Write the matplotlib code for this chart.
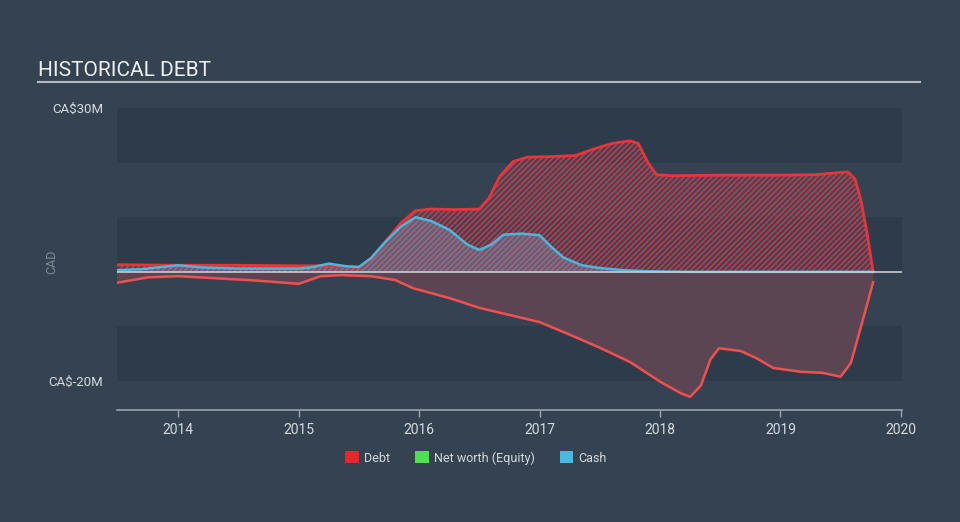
import matplotlib.pyplot as plt
import numpy as np
from matplotlib.patches import Patch

plt.rcParams['font.family'] = ['Roboto', 'DejaVu Sans']
plt.rcParams['hatch.linewidth'] = 1.0

# values in CA$ millions, x in decimal years
debt_t = [2013.49, 2014.0, 2014.5, 2015.0, 2015.3, 2015.5, 2015.6, 2015.72, 2015.85,
          2015.97, 2016.1, 2016.3, 2016.5, 2016.58, 2016.67, 2016.78, 2016.9, 2017.1,
          2017.3, 2017.45, 2017.6, 2017.75, 2017.82, 2017.9, 2017.97, 2018.1, 2018.5,
          2019.0, 2019.3, 2019.5, 2019.56, 2019.62, 2019.67, 2019.72, 2019.77]
debt_v = [1.3, 1.2, 1.2, 1.1, 1.1, 0.8, 2.5, 5.5, 9.0,
          11.2, 11.5, 11.4, 11.5, 13.5, 17.5, 20.2, 21.0, 21.1,
          21.3, 22.5, 23.5, 24.0, 23.5, 20.0, 17.8, 17.6, 17.7,
          17.7, 17.8, 18.2, 18.3, 17.0, 13.0, 7.0, 0.0]

cash_t = [2013.49, 2013.7, 2014.0, 2014.2, 2014.5, 2015.0, 2015.1, 2015.25, 2015.4,
          2015.5, 2015.6, 2015.72, 2015.85, 2015.97, 2016.1, 2016.25, 2016.4, 2016.5,
          2016.6, 2016.7, 2016.85, 2017.0, 2017.1, 2017.2, 2017.35, 2017.5, 2017.7,
          2017.9, 2018.2, 2019.77]
cash_v = [0.3, 0.5, 1.2, 0.8, 0.6, 0.6, 0.8, 1.5, 1.0,
          0.9, 2.5, 5.5, 8.3, 10.0, 9.3, 7.7, 5.0, 4.0,
          5.0, 6.8, 7.0, 6.7, 4.5, 2.6, 1.2, 0.7, 0.3,
          0.1, 0.0, 0.0]

equity_t = [2013.49, 2013.75, 2014.0, 2014.25, 2014.65, 2015.0, 2015.18, 2015.35, 2015.6,
            2015.8, 2015.95, 2016.25, 2016.5, 2016.75, 2017.0, 2017.25, 2017.5, 2017.75,
            2018.0, 2018.17, 2018.25, 2018.34, 2018.42, 2018.49, 2018.67, 2018.8, 2018.94,
            2019.17, 2019.35, 2019.5, 2019.585, 2019.67, 2019.77]
equity_v = [-2.0, -1.0, -0.8, -1.1, -1.6, -2.2, -0.8, -0.6, -0.8,
            -1.5, -3.0, -4.8, -6.6, -7.9, -9.2, -11.5, -13.9, -16.5,
            -20.1, -22.2, -22.9, -20.8, -16.0, -14.0, -14.5, -15.8, -17.6,
            -18.3, -18.5, -19.2, -16.7, -10.0, -1.9]

year_ticks = [2014, 2015, 2016, 2017, 2018, 2019, 2020]
y_ticks = [30, -20]
y_labels = ['CA$30M', 'CA$-20M']

BG = '#344252'
BAND = '#2e3b4b'
DEBT = '#e8353b'
EQUITY_LINE = '#f2504f'
CASH = '#4ab8de'
TXT = '#d6dade'

fig = plt.figure(figsize=(9.6, 5.22), dpi=100, facecolor=BG)
ax = fig.add_axes([117 / 960, 1 - 410 / 522, (902 - 117) / 960, (410 - 108) / 522])
ax.set_facecolor(BG)
ax.set_xlim(2013.49, 2020.01)
ax.set_ylim(-25.3, 30)

for lo, hi in [(20, 30), (0, 10), (-20, -10)]:
    ax.axhspan(lo, hi, color=BAND, lw=0, zorder=0)

# equity (negative) fill
ax.fill_between(equity_t, equity_v, 0, facecolor='#5c4553', lw=0, zorder=1)
ax.plot(equity_t, equity_v, color=EQUITY_LINE, lw=1.8, zorder=4)

# debt hatched fill
ax.fill_between(debt_t, debt_v, 0, facecolor=(0.45, 0.3, 0.4, 0.35), edgecolor='#cc3d47',
                hatch='//////', lw=0, zorder=2)
ax.plot(debt_t, debt_v, color=DEBT, lw=2, zorder=4)

# cash
ax.fill_between(cash_t, cash_v, 0, facecolor=(0.55, 0.7, 0.85, 0.3), lw=0, zorder=3)
ax.plot(cash_t, cash_v, color=CASH, lw=1.8, zorder=5)

ax.axhline(0, color='#c9cdd2', lw=1.2, zorder=6)

for s in ['top', 'right', 'left']:
    ax.spines[s].set_visible(False)
ax.spines['bottom'].set_color('#9aa3ae')
ax.spines['bottom'].set_linewidth(1.2)

ax.set_xticks(year_ticks)
ax.set_xticklabels([str(y) for y in year_ticks])
ax.tick_params(axis='x', colors='#9aa3ae', length=5, width=1, labelcolor=TXT,
               labelsize=10, pad=4)
ax.set_yticks(y_ticks)
ax.set_yticklabels(y_labels)
ax.tick_params(axis='y', length=0, labelcolor=TXT, labelsize=9.5, pad=10)

fig.text(52 / 960, 1 - 262 / 522, 'CAD', rotation=90, color='#7f8a96', fontsize=9,
         ha='center', va='center')

fig.text(38 / 960, 1 - 70 / 522, 'HISTORICAL DEBT', color='#eef0f2', fontsize=15,
         ha='left', va='center')
fig.add_artist(plt.Line2D([38 / 960, 920 / 960], [1 - 82 / 522, 1 - 82 / 522],
                          color='#b4bac1', lw=1.5))

handles = [Patch(facecolor='#e8262b', label='Debt'),
           Patch(facecolor='#4ee04f', label='Net worth (Equity)'),
           Patch(facecolor='#4ab9e0', label='Cash')]
leg = fig.legend(handles=handles, loc='center', bbox_to_anchor=(476 / 960, 1 - 458 / 522),
                 ncol=3, frameon=False, fontsize=9, handlelength=1.1, handleheight=1.1,
                 handletextpad=0.4, columnspacing=2.0)
for t in leg.get_texts():
    t.set_color(TXT)

fig.savefig('out.png', dpi=100, facecolor=BG)
